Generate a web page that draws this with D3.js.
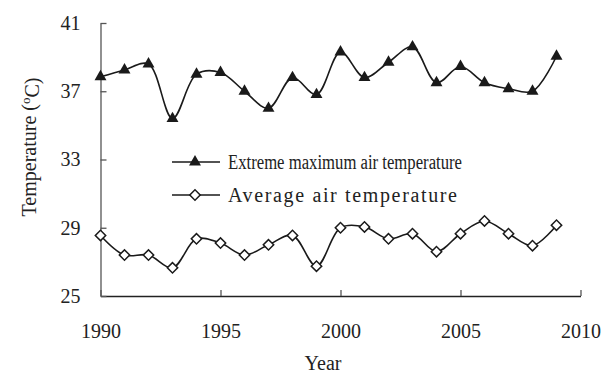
<!DOCTYPE html>
<html><head><meta charset="utf-8">
<script src="https://cdn.jsdelivr.net/npm/d3@7"></script>
<style>body{margin:0;background:#fff}svg{display:block}text{font-family:"Liberation Serif","Times New Roman",serif;fill:#222}</style>
</head><body><svg id="c" width="605" height="376"></svg>
<script>
const years = d3.range(1990, 2010);
const extremeMax = [37.85,38.25,38.6,35.4,38.0,38.1,37.0,36.0,37.8,36.8,39.3,37.8,38.7,39.6,37.5,38.45,37.5,37.15,37.0,39.05];
const averageTemp = [28.55,27.4,27.4,26.65,28.35,28.1,27.4,28.0,28.55,26.75,29.0,29.05,28.35,28.65,27.6,28.65,29.4,28.65,27.95,29.15];
const xTicks = [1990,1995,2000,2005,2010];
const yTicks = [25,29,33,37,41];
const seriesNames = ["Extreme maximum air temperature","Average air temperature"];

const svg = d3.select("#c");
const x = d3.scaleLinear().domain([1990,2010]).range([100.5,580.5]);
const y = d3.scaleLinear().domain([25,41]).range([296,23]);

const gx = svg.append("g").attr("transform","translate(0,296)")
  .call(d3.axisBottom(x).tickValues(xTicks).tickFormat(d3.format("d")).tickSizeInner(-6).tickSizeOuter(0).tickPadding(28));
const gy = svg.append("g").attr("transform","translate(100.5,0)")
  .call(d3.axisLeft(y).tickValues(yTicks).tickSizeInner(-6).tickSizeOuter(0).tickPadding(20));
[gx,gy].forEach(g=>{
  g.selectAll("text").style("font-size","20px").attr("fill","#222");
  g.select(".domain").attr("stroke","#555").attr("stroke-width",1.3);
  g.selectAll(".tick line").attr("stroke","#555").attr("stroke-width",1.3);
});
gx.select(".domain").attr("stroke","#222");

svg.append("text").attr("x",323).attr("y",370).attr("text-anchor","middle").style("font-size","20px").text("Year");
const yl = svg.append("text").attr("transform","translate(36,147) rotate(-90)").attr("text-anchor","middle").style("font-size","20px");
yl.append("tspan").text("Temperature (");
yl.append("tspan").attr("dy","-0.45em").style("font-size","13px").text("o");
yl.append("tspan").attr("dy","0.45em").text("C)");

const line = d3.line().x((d,i)=>x(years[i])).y(d=>y(d)).curve(d3.curveCatmullRom.alpha(0.5));
svg.append("path").attr("d",line(extremeMax)).attr("fill","none").attr("stroke","#1a1a1a").attr("stroke-width",1.6);
svg.append("path").attr("d",line(averageTemp)).attr("fill","none").attr("stroke","#1a1a1a").attr("stroke-width",1.6);

const tri = d3.symbol().type(d3.symbolTriangle).size(62);
const dia = d3.symbol().type(d3.symbolSquare).size(54);
svg.append("g").selectAll("path").data(extremeMax).join("path")
  .attr("d",tri).attr("transform",(d,i)=>`translate(${x(years[i])},${y(d)})`).attr("fill","#1a1a1a");
svg.append("g").selectAll("path").data(averageTemp).join("path")
  .attr("d",dia).attr("transform",(d,i)=>`translate(${x(years[i])},${y(d)}) rotate(45)`)
  .attr("fill","#fff").attr("stroke","#1a1a1a").attr("stroke-width",1.5);

const lg = svg.append("g");
const rows = [{n:seriesNames[0],y:162,s:"tri",w:234,adj:"spacingAndGlyphs"},{n:seriesNames[1],y:195,s:"dia",w:229,adj:"spacing"}];
rows.forEach(r=>{
  lg.append("line").attr("x1",172).attr("x2",220).attr("y1",r.y).attr("y2",r.y).attr("stroke","#1a1a1a").attr("stroke-width",1.6);
  if(r.s==="tri") lg.append("path").attr("d",tri).attr("transform",`translate(195,${r.y})`).attr("fill","#1a1a1a");
  else lg.append("path").attr("d",dia).attr("transform",`translate(195,${r.y}) rotate(45)`).attr("fill","#fff").attr("stroke","#1a1a1a").attr("stroke-width",1.5);
  lg.append("text").attr("x",228).attr("y",r.y).attr("dy","0.35em").style("font-size","20px")
    .attr("textLength",r.w).attr("lengthAdjust",r.adj).text(r.n);
});
</script></body></html>
